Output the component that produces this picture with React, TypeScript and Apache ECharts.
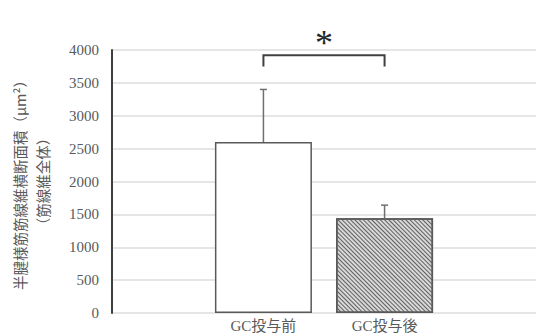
import React, { useEffect, useRef } from "react";
import * as echarts from "echarts";

// Category slots along the x axis; the two groups sit in slots 2 and 4.
const categories = ["", "", "GC投与前", "", "GC投与後", "", ""];
const groupSlots = [2, 4];
const means = [2600, 1440];
const sdUpper = [800, 200];
const yTicks = { min: 0, max: 4000, interval: 500 };
// significance bracket: [fromSlot, toSlot, barValue, legValue]
const bracket = [2, 4, 3920, 3750];
const bracketMark = "*";
const yTitle = "半腱様筋筋線維横断面積（μm²）\n（筋線維全体）";

const serif = "Liberation Serif, Noto Sans CJK JP, serif";

export default function App() {
  const ref = useRef<HTMLDivElement>(null);

  useEffect(() => {
    document.body.style.margin = "0";
    if (!ref.current) return;
    const chart = echarts.init(ref.current, null, { renderer: "svg" });

    const barData = categories.map((_, i) => {
      const g = groupSlots.indexOf(i);
      if (g < 0) return null;
      if (g === 1) {
        return {
          value: means[g],
          itemStyle: {
            color: "#d8d8d8",
            borderColor: "#595959",
            borderWidth: 1.5,
            decal: {
              symbol: "rect",
              symbolSize: 1,
              color: "#606060",
              dashArrayX: [1, 0],
              dashArrayY: [1, 1.3],
              rotation: Math.PI / 4,
            },
          },
        };
      }
      return {
        value: means[g],
        itemStyle: { color: "#ffffff", borderColor: "#595959", borderWidth: 1.5 },
      };
    });

    const errData = groupSlots.map((s, g) => [s, means[g], sdUpper[g]]);

    chart.setOption({
      animation: false,
      grid: { left: 108, top: 50, width: 430, height: 263 },
      xAxis: {
        type: "category",
        data: categories,
        axisLine: { show: false },
        axisTick: { show: false },
        axisLabel: {
          interval: 0,
          color: "#595959",
          fontSize: 15,
          fontFamily: serif,
          margin: 5,
        },
      },
      yAxis: {
        type: "value",
        min: yTicks.min,
        max: yTicks.max,
        interval: yTicks.interval,
        axisLine: { show: true, lineStyle: { color: "#3f3f3f", width: 2 } },
        axisTick: { show: false },
        axisLabel: {
          color: "#595959",
          fontSize: 15,
          fontFamily: serif,
          margin: 13,
          formatter: (v: number) => String(v),
        },
        splitLine: { lineStyle: { color: "#dcdcdc", width: 1.5 } },
        name: yTitle,
        nameLocation: "middle",
        nameGap: 58,
        nameRotate: 90,
        nameTextStyle: {
          color: "#595959",
          fontSize: 14.5,
          lineHeight: 23,
          fontFamily: "Noto Sans CJK JP, sans-serif",
        },
      },
      series: [
        {
          type: "bar",
          data: barData,
          barWidth: 97,
          z: 2,
        },
        {
          type: "custom",
          data: errData,
          z: 3,
          renderItem: (params: any, api: any) => {
            const slot = api.value(0);
            const m = api.value(1);
            const e = api.value(2);
            const base = api.coord([slot, m]);
            const top = api.coord([slot, m + e]);
            const style = { stroke: "#6f6f6f", lineWidth: 1.5 };
            return {
              type: "group",
              children: [
                {
                  type: "line",
                  shape: { x1: base[0], y1: base[1], x2: top[0], y2: top[1] },
                  style,
                },
                {
                  type: "line",
                  shape: { x1: top[0] - 3.5, y1: top[1], x2: top[0] + 3.5, y2: top[1] },
                  style,
                },
              ],
            };
          },
        },
        {
          type: "custom",
          data: [bracket],
          z: 4,
          clip: false,
          renderItem: (params: any, api: any) => {
            const a = api.coord([api.value(0), api.value(2)]);
            const b = api.coord([api.value(1), api.value(2)]);
            const legA = api.coord([api.value(0), api.value(3)]);
            const legB = api.coord([api.value(1), api.value(3)]);
            return {
              type: "group",
              children: [
                {
                  type: "polyline",
                  shape: {
                    points: [
                      [legA[0], legA[1]],
                      [a[0], a[1]],
                      [b[0], b[1]],
                      [legB[0], legB[1]],
                    ],
                  },
                  style: { stroke: "#404040", lineWidth: 2, fill: null },
                },
                {
                  type: "text",
                  style: {
                    text: bracketMark,
                    x: (a[0] + b[0]) / 2,
                    y: a[1] + 6,
                    align: "center",
                    verticalAlign: "bottom",
                    fontSize: 36,
                    fontFamily: "Liberation Serif, serif",
                    fill: "#262626",
                  },
                },
              ],
            };
          },
        },
      ],
    });

    return () => chart.dispose();
  }, []);

  return <div ref={ref} style={{ width: 536, height: 336 }} />;
}
